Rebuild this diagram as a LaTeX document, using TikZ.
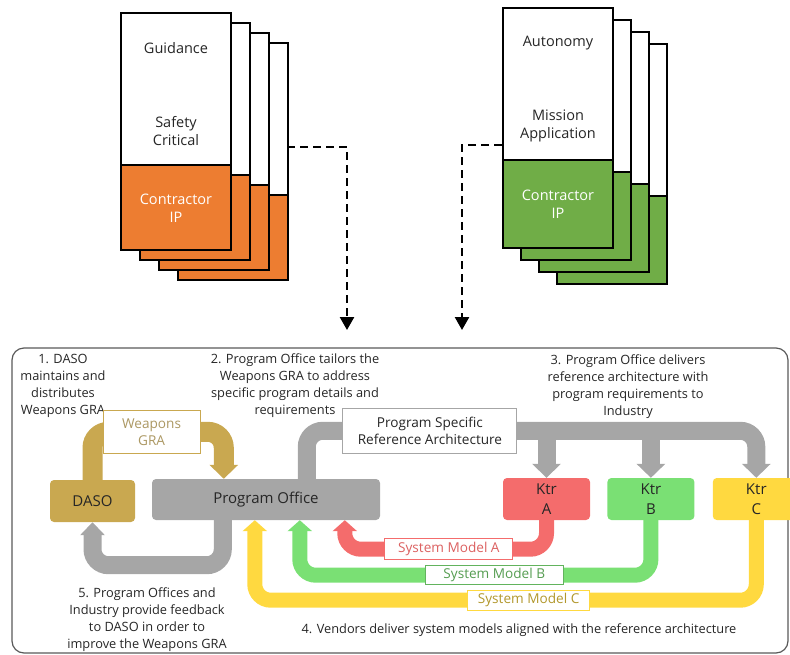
\documentclass[tikz,border=0pt]{standalone}
\usepackage{fontspec}
\setmainfont{Open Sans}
\usepackage{xcolor}
\usetikzlibrary{arrows.meta, positioning, calc}
\definecolor{iporange}{RGB}{237, 125, 49}
\definecolor{ipgreen}{RGB}{112, 173, 71}
\definecolor{dasotan}{RGB}{201, 168, 80}
\definecolor{pogray}{RGB}{166, 166, 166}
\definecolor{ktrred}{RGB}{244, 108, 108}
\definecolor{ktrgreen}{RGB}{122, 224, 116}
\definecolor{ktryellow}{RGB}{255, 217, 64}
\definecolor{txtdark}{RGB}{38, 38, 38}
\tikzstyle{card} = [line width=2.5pt, draw=black]
\tikzstyle{cardtext} = [align=center, font=\fontsize{14.5}{18}\selectfont, text=txtdark]
\tikzstyle{note} = [align=center, font=\fontsize{12.8}{17}\selectfont, text=txtdark]
\tikzstyle{block} = [rectangle, rounded corners=4pt, minimum height=42pt, align=center, font=\fontsize{15}{20}\selectfont, text=txtdark]
\tikzstyle{tag} = [rectangle, sharp corners, fill=white, line width=1pt, align=center, inner sep=1pt, font=\fontsize{13.6}{17}\selectfont]
\tikzstyle{fat} = [line width=18pt, rounded corners=16pt, -{Triangle[width=28pt,length=14pt]}]
\tikzstyle{model} = [line width=15pt, rounded corners=16pt, -{Triangle[width=24pt,length=11pt]}]
\tikzstyle{dasharrow} = [line width=2.5pt, dash pattern=on 8pt off 5pt, -{Triangle[width=14pt,length=13pt]}]

\begin{document}
\begin{tikzpicture}[x=1pt, y=-1pt]
    \useasboundingbox (0,0) rectangle (790,654);

    % software stacks
    \foreach \i in {3,2,1,0} {
        \filldraw [card, fill=white] (121+19*\i, 13+10*\i) rectangle (231+19*\i, 165+10*\i);
        \filldraw [card, fill=iporange] (121+19*\i, 165+10*\i) rectangle (231+19*\i, 250+10*\i);
        \filldraw [card, fill=white] (503+18*\i, 8+12*\i) rectangle (613+18*\i, 160+12*\i);
        \filldraw [card, fill=ipgreen] (503+18*\i, 160+12*\i) rectangle (613+18*\i, 248+12*\i);
    }
    \node (guid) [cardtext] at (176,48) {Guidance};
    \node (safe) [cardtext] at (176,131) {Safety\\Critical};
    \node (gip) [cardtext, text=white] at (176,208) {Contractor\\IP};
    \node (auto) [cardtext] at (558,43) {Autonomy};
    \node (miss) [cardtext] at (558,126) {Mission\\Application};
    \node (aip) [cardtext, text=white] at (558,204) {Contractor\\IP};

    \coordinate (gout) at (287,147);
    \coordinate (gin) at (347,330);
    \coordinate (aout) at (502,145);
    \coordinate (ain) at (462,330);
    \draw [dasharrow] (gout) -| (gin);
    \draw [dasharrow] (aout) -| (ain);

    % process panel
    \draw [line width=1.2pt, draw=black!65, rounded corners=12pt] (12,348) rectangle (788,653);

    \node (n1) [note] at (63,385.5) {1. DASO\\maintains and\\distributes\\Weapons GRA};
    \node (n2) [note] at (295,385.5) {2. Program Office tailors the\\Weapons GRA to address\\specific program details and\\requirements};
    \node (n3) [note] at (628,386.5) {3. Program Office delivers\\reference architecture with\\program requirements to\\Industry};
    \node (n5) [note] at (147,620) {5. Program Offices and\\Industry provide feedback\\to DASO in order to\\improve the Weapons GRA};
    \node (n4) [note] at (519,630) {4. Vendors deliver system models aligned with the reference architecture};

    \node (daso) [block, fill=dasotan, minimum width=85pt] at (92.5,501) {DASO};
    \node (po) [block, fill=pogray, minimum width=228pt, minimum height=41pt] at (266,499.5) {Program Office};
    \node (ktra) [block, fill=ktrred, minimum width=87pt] at (546.5,499) {Ktr\\A};
    \node (ktrb) [block, fill=ktrgreen, minimum width=87pt, right=17pt of ktra] {Ktr\\B};
    \node (ktrc) [block, fill=ktryellow, minimum width=87pt, right=18pt of ktrb] {Ktr\\C};

    \draw [fat, dasotan, line width=20pt] (daso.north) -- ++(0,-48)
        -| node[pos=0.225, tag, draw=dasotan, text=dasotan!60!gray, minimum width=97pt, minimum height=43pt] (wgra) {Weapons\\GRA}
        ([xshift=72pt]po.north west);
    \draw [fat, pogray] ([xshift=155pt]po.north west) -- ++(0,-48) coordinate (psrbend)
        -| node[pos=0.137, tag, draw=pogray, text=txtdark, minimum width=174pt, minimum height=45pt] (psr) {Program Specific\\Reference Architecture}
        (ktrc.north);
    \draw [fat, pogray] (psrbend -| ktra.north) -- (ktra.north);
    \draw [fat, pogray] (psrbend -| ktrb.north) -- (ktrb.north);
    \draw [fat, pogray, -{Triangle[width=24pt,length=13pt]}] ([xshift=71pt]po.south west) -- ++(0,45) -| (daso.south);

    \draw [model, ktryellow] (ktrc.south) -- ++(0,80)
        -| node[pos=0.227, tag, draw=ktryellow, text=ktryellow!70!black, minimum width=122pt, minimum height=20pt] (smc) {System Model C}
        ([xshift=103pt]po.south west);
    \draw [model, ktrgreen] (ktrb.south) -- ++(0,55)
        -| node[pos=0.223, tag, draw=ktrgreen!80!black, text=ktrgreen!70!black, minimum width=138pt, minimum height=19pt] (smb) {System Model B}
        ([xshift=148pt]po.south west);
    \draw [model, ktrred] (ktra.south) -- ++(0,29)
        -| node[pos=0.242, tag, draw=ktrred, text=ktrred!90!black, minimum width=128pt, minimum height=21pt] (sma) {System Model A}
        ([xshift=193pt]po.south west);
\end{tikzpicture}
\end{document}
